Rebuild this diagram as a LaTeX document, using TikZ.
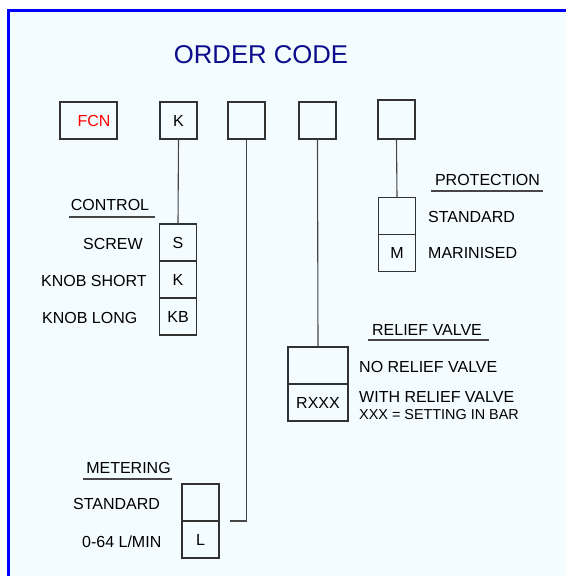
\documentclass[tikz,border=0pt]{standalone}
\usepackage{fontspec}
\setmainfont{Liberation Sans}
\definecolor{panelbg}{RGB}{243,252,254}
\definecolor{titleblue}{RGB}{12,12,140}
\definecolor{boxline}{RGB}{50,50,50}
\definecolor{wireline}{RGB}{70,70,70}
\newcommand{\lblfont}{\fontsize{16}{18}\selectfont}
\newcommand{\smallfont}{\fontsize{14.4}{16}\selectfont}
\begin{document}
\begin{tikzpicture}[x=1pt,y=-1pt,
    codebox/.style={draw=boxline, line width=1.1pt, minimum width=37pt,
      minimum height=37pt, inner sep=0pt, font=\lblfont},
    optlbl/.style={inner sep=0pt, font=\lblfont, text height=11.5pt, text depth=0pt},
    headlbl/.style={optlbl},
    wire/.style={draw=wireline, line width=1.1pt},
    uline/.style={draw=wireline, line width=1.2pt}]
          \useasboundingbox (0,0) rectangle (566,576);
          \fill[panelbg] (8.5,10.5) rectangle (566,576);
          \draw[blue, line width=2.5pt] (8.5,576) -- (8.5,10.5) -- (566,10.5);
          \node[font=\fontsize{25.7}{28}\selectfont, text=titleblue, inner sep=0pt] (title) at (261,54.5) {ORDER CODE};
          % top row of code boxes
          \node[codebox, minimum width=57pt, text=red] (fcn) at (88.5,120.5) {\hspace{11pt}FCN};
          \node[codebox] (k) at (178.5,120.5) {K};
          \node[codebox] (mtr) at (246.5,120.5) {};
          \node[codebox] (rlf) at (317.5,120.5) {};
          \node[codebox, minimum height=39pt] (prt) at (396.5,119.5) {};
          % control
          \node[headlbl] (ctrlhead) at (110,204.5) {CONTROL};
          \draw[uline] (69,217) -- (155,217);
          \node[codebox] (ctrls) at (178,242.5) {S};
          \node[codebox] (ctrlk) at (178,279.5) {K};
          \node[codebox] (ctrlkb) at (178,316.5) {KB};
          \node[optlbl, anchor=west] (screw) at (83,244) {SCREW};
          \node[optlbl, anchor=west] (knobshort) at (41,281) {KNOB SHORT};
          \node[optlbl, anchor=west] (knoblong) at (42,318) {KNOB LONG};
          \draw[wire] (k.south) -- (ctrls.north);
          % protection
          \node[headlbl] (prthead) at (487.5,179.5) {PROTECTION};
          \draw[uline] (431,191) -- (543,191);
          \node[codebox] (prtstd) at (397,216) {};
          \node[codebox] (prtm) at (397,253) {M};
          \node[optlbl, anchor=west] (standardp) at (428,217) {STANDARD};
          \node[optlbl, anchor=west] (marinised) at (428,253) {MARINISED};
          \draw[wire] (prt.south) -- (prtstd.north);
          % relief valve
          \node[headlbl] (rlfhead) at (427,330) {RELIEF VALVE};
          \draw[uline] (368,340) -- (489,340);
          \node[codebox, minimum width=60pt] (rlfnone) at (318,365.5) {};
          \node[codebox, minimum width=60pt] (rlfr) at (318,402.5) {RXXX};
          \node[optlbl, anchor=west] (norelief) at (359,367) {NO RELIEF VALVE};
          \node[optlbl, anchor=west] (withrelief) at (359,396.5) {WITH RELIEF VALVE};
          \node[inner sep=0pt, font=\smallfont, text height=10.3pt, text depth=0pt, anchor=west] (setting) at (359,414.5) {XXX = SETTING IN BAR};
          \draw[wire] (rlf.south) -- (rlfnone.north);
          % metering
          \node[headlbl] (mtrhead) at (128.5,468) {METERING};
          \draw[uline] (83,479) -- (172,479);
          \node[codebox] (mtrstd) at (200.5,502.5) {};
          \node[codebox] (mtrl) at (200.5,539.5) {L};
          \node[optlbl, anchor=west] (standardm) at (73,504) {STANDARD};
          \node[optlbl, anchor=west] (lmin) at (82,541.5) {0-64 L/MIN};
          \coordinate (mtrend) at (230,521);
          \draw[wire] (mtr.south) |- (mtrend);
        \end{tikzpicture}
\end{document}
